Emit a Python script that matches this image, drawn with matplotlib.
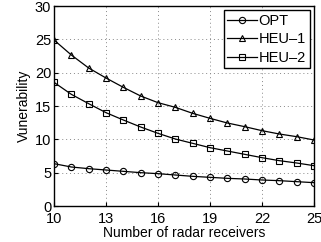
import matplotlib
matplotlib.use("Agg")
import matplotlib.pyplot as plt

receivers = list(range(10, 26))
opt = [6.35, 5.85, 5.6, 5.4, 5.2, 5.0, 4.85, 4.65, 4.45, 4.3, 4.15, 4.05, 3.9, 3.8, 3.65, 3.5]
heu1 = [24.9, 22.65, 20.7, 19.2, 17.8, 16.5, 15.5, 14.8, 13.9, 13.15, 12.45, 11.9, 11.3, 10.8, 10.4, 9.9]
heu2 = [18.55, 16.75, 15.35, 14.0, 12.9, 11.85, 10.9, 10.05, 9.4, 8.75, 8.25, 7.75, 7.25, 6.8, 6.45, 6.05]
xticks = [10, 13, 16, 19, 22, 25]
yticks = [0, 5, 10, 15, 20, 25, 30]

plt.rcParams['font.family'] = ['Liberation Sans', 'DejaVu Sans']
fig = plt.figure(figsize=(3.21, 2.42), dpi=100)
ax = fig.add_axes([54/321, 1 - 206/242, 260/321, 200/242])

kw = dict(color='black', lw=0.9, markersize=4.5, markerfacecolor='none', markeredgewidth=0.8)
ax.plot(receivers, opt, marker='o', label='OPT', **kw)
ax.plot(receivers, heu1, marker='^', label='HEU–1', **kw)
ax.plot(receivers, heu2, marker='s', label='HEU–2', **kw)

ax.set_xlim(10, 25)
ax.set_ylim(0, 30)
ax.set_xticks(xticks)
ax.set_yticks(yticks)
ax.grid(True, linestyle=(0, (1, 3)), color='#888888', lw=0.7)
ax.tick_params(direction='in', labelsize=10.5, length=3, pad=4)
ax.tick_params(axis='y', pad=2)
for s in ax.spines.values():
    s.set_linewidth(1.0)
ax.set_xlabel('Number of radar receivers', fontsize=10, labelpad=0)
ax.set_ylabel('Vunerability', fontsize=10, labelpad=3)
leg = ax.legend(loc='upper right', fontsize=10.5, fancybox=False, framealpha=1,
                edgecolor='black', handlelength=2.0, handletextpad=0.15,
                borderpad=0.25, labelspacing=0.3, borderaxespad=0.3)
leg.get_frame().set_linewidth(1.0)
fig.savefig('out.png', dpi=100)
